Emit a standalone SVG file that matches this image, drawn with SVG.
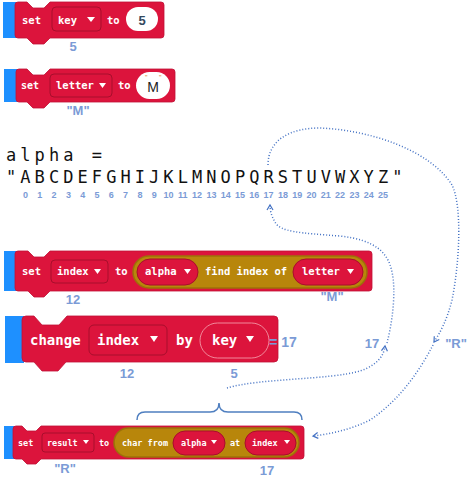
<svg xmlns="http://www.w3.org/2000/svg" width="467" height="479" viewBox="0 0 467 479">
<style>
.strip{fill:#1E90FF}
.blk{fill:#DC143C;stroke:#C01035;stroke-width:0.8}
.fld{fill:#DC143C;stroke:#A80E2C;stroke-width:1}
.pill{fill:#DC143C;stroke:#A80E2C;stroke-width:1}
.olive{fill:#B8860B;stroke:#9C7109;stroke-width:1.5}
.wt{fill:#fff;font-family:"DejaVu Sans Mono",monospace;font-weight:bold}
.tri{fill:#fff}
.lbl{fill:#7B9BD6;font-family:"Liberation Sans",Arial,sans-serif;font-weight:bold;text-anchor:middle}
.mono{fill:#111;font-family:"DejaVu Sans Mono",monospace;font-size:17px;letter-spacing:4.07px}
.idx{fill:#7B9BD6;font-family:"Liberation Sans",Arial,sans-serif;font-weight:bold;font-size:9px;text-anchor:middle}
.dot{fill:none;stroke:#4472C4;stroke-width:1.5;stroke-dasharray:1 2}
</style>
<defs>
<marker id="arr" markerUnits="userSpaceOnUse" markerWidth="10" markerHeight="10" refX="6" refY="4" orient="auto">
<path d="M1,1 L6,4 L1,7" fill="none" stroke="#4472C4" stroke-width="1.2"/>
</marker>
</defs>

<g id="block-set-key">
<rect class="strip" x="3" y="2" width="14" height="36"/>
<path class="blk" d="M18,2 L27,2 L33,8 L44,8 L50,2 L161,2 Q164,2 164,5 L164,35 Q164,38 161,38 L50,38 L44,44 L33,44 L27,38 L18,38 Q15,38 15,35 L15,5 Q15,2 18,2 Z"/>
<text class="wt" x="22" y="24" font-size="10.5">set</text>
<rect class="fld" x="52" y="7" width="49" height="24" rx="4"/>
<text class="wt" x="58" y="24" font-size="10.5">key</text>
<polygon class="tri" points="87,17 95,17 91,22"/>
<text class="wt" x="107" y="24" font-size="10.5">to</text>
<rect x="126" y="7" width="32" height="24" rx="12" fill="#fff"/>
<text x="142" y="25" font-family="Liberation Sans,Arial,sans-serif" font-size="13" font-weight="bold" fill="#34495E" text-anchor="middle">5</text>
<text class="lbl" x="73" y="51" font-size="13">5</text>
</g>

<g id="block-set-letter">
<rect class="strip" x="4" y="69" width="14" height="33"/>
<path class="blk" d="M19,69 L27,69 L33,75 L44,75 L50,69 L172,69 Q175,69 175,72 L175,99 Q175,102 172,102 L50,102 L44,108 L33,108 L27,102 L19,102 Q16,102 16,99 L16,72 Q16,69 19,69 Z"/>
<text class="wt" x="21" y="89" font-size="10">set</text>
<rect class="fld" x="50" y="74" width="62" height="23" rx="4"/>
<text class="wt" x="56" y="89" font-size="10.5">letter</text>
<polygon class="tri" points="99,83 106,83 102.5,88"/>
<text class="wt" x="118" y="89" font-size="10.5">to</text>
<rect x="136" y="72" width="34" height="27" rx="13.5" fill="#fff"/>
<text x="153" y="92" font-family="Liberation Sans,Arial,sans-serif" font-size="14" fill="#222" text-anchor="middle">M</text>
<text x="145" y="80" font-family="Liberation Sans,Arial,sans-serif" font-size="7" fill="#E08030">"</text>
<text x="159" y="80" font-family="Liberation Sans,Arial,sans-serif" font-size="7" fill="#E08030">"</text>
<text class="lbl" x="78" y="115" font-size="13">"M"</text>
</g>

<g id="alpha-string">
<text class="mono" x="6" y="161">alpha =</text>
<text class="mono" x="6" y="183">"ABCDEFGHIJKLMNOPQRSTUVWXYZ"</text>
<text class="idx" y="197.5"><tspan x="25.5">0</tspan><tspan x="39.8">1</tspan><tspan x="54.1">2</tspan><tspan x="68.4">3</tspan><tspan x="82.7">4</tspan><tspan x="97">5</tspan><tspan x="111.3">6</tspan><tspan x="125.6">7</tspan><tspan x="139.9">8</tspan><tspan x="154.2">9</tspan><tspan x="168.5">10</tspan><tspan x="182.8">11</tspan><tspan x="197.1">12</tspan><tspan x="211.4">13</tspan><tspan x="225.7">14</tspan><tspan x="240">15</tspan><tspan x="254.3">16</tspan><tspan x="268.6">17</tspan><tspan x="282.9">18</tspan><tspan x="297.2">19</tspan><tspan x="311.5">20</tspan><tspan x="325.8">21</tspan><tspan x="340.1">22</tspan><tspan x="354.4">23</tspan><tspan x="368.7">24</tspan><tspan x="383">25</tspan></text>
</g>

<g id="block-set-index">
<rect class="strip" x="4" y="251" width="14" height="40"/>
<path class="blk" d="M18,251 L28,251 L34,257 L44,257 L50,251 L369,251 Q372,251 372,254 L372,288 Q372,291 369,291 L50,291 L44,297 L34,297 L28,291 L18,291 Q15,291 15,288 L15,254 Q15,251 18,251 Z"/>
<text class="wt" x="22" y="275" font-size="10.5">set</text>
<rect class="fld" x="51" y="260" width="57" height="23" rx="4"/>
<text class="wt" x="57" y="275" font-size="10.5">index</text>
<polygon class="tri" points="94,269 101,269 97.5,274"/>
<text class="wt" x="115" y="275" font-size="10.5">to</text>
<rect class="olive" x="133" y="256" width="234" height="32" rx="16"/>
<rect class="pill" x="137" y="259" width="61" height="26" rx="13"/>
<text class="wt" x="145" y="275" font-size="10.5">alpha</text>
<polygon class="tri" points="184,269 191,269 187.5,274"/>
<text class="wt" x="205" y="275" font-size="10.5">find index of</text>
<rect class="pill" x="293" y="259" width="70" height="26" rx="13"/>
<text class="wt" x="302" y="275" font-size="10.5">letter</text>
<polygon class="tri" points="347,269 354,269 350.5,274"/>
<text class="lbl" x="73" y="304" font-size="13">12</text>
<text class="lbl" x="332" y="301" font-size="13">"M"</text>
</g>

<g id="block-change-index">
<rect class="strip" x="5" y="316" width="19" height="47"/>
<path class="blk" d="M26,316 L34,316 L42,325 L59,325 L67,316 L274,316 Q278,316 278,320 L278,358 Q278,362 274,362 L66,362 L58,371 L42,371 L34,362 L26,362 Q22,362 22,358 L22,320 Q22,316 26,316 Z"/>
<text class="wt" x="30" y="345" font-size="14">change</text>
<rect class="fld" x="89" y="325" width="78" height="30" rx="5"/>
<text class="wt" x="97" y="345" font-size="14">index</text>
<polygon class="tri" points="150,336 158,336 154,342"/>
<text class="wt" x="176" y="345" font-size="14">by</text>
<rect x="200" y="323" width="69" height="35" rx="17.5" fill="#DC143C" stroke="#F2899B" stroke-width="1"/>
<text class="wt" x="212" y="345" font-size="14">key</text>
<polygon class="tri" points="246,336 254,336 250,342"/>
<text class="lbl" x="283" y="347" font-size="14" text-anchor="start">= 17</text>
<text class="lbl" x="127" y="378" font-size="13">12</text>
<text class="lbl" x="234" y="378" font-size="13">5</text>
</g>

<g id="block-set-result">
<rect class="strip" x="4" y="426" width="11" height="33"/>
<path class="blk" d="M16,426 L22,426 L27,431 L36,431 L41,426 L301,426 Q304,426 304,429 L304,456 Q304,459 301,459 L41,459 L36,464 L27,464 L22,459 L16,459 Q13,459 13,456 L13,429 Q13,426 16,426 Z"/>
<text class="wt" x="18" y="446" font-size="8.5">set</text>
<rect class="fld" x="42" y="433" width="52" height="19" rx="3"/>
<text class="wt" x="47" y="446" font-size="8.5">result</text>
<polygon class="tri" points="83,440 89,440 86,444"/>
<text class="wt" x="99" y="446" font-size="8.5">to</text>
<rect class="olive" x="114" y="428" width="185" height="29" rx="14.5"/>
<text class="wt" x="122" y="446" font-size="8.5">char from</text>
<rect class="pill" x="173" y="431" width="52" height="24" rx="12"/>
<text class="wt" x="181" y="446" font-size="8.5">alpha</text>
<polygon class="tri" points="211,440 217,440 214,444"/>
<text class="wt" x="230" y="446" font-size="8.5">at</text>
<rect class="pill" x="245" y="431" width="51" height="24" rx="12"/>
<text class="wt" x="252" y="446" font-size="8.5">index</text>
<polygon class="tri" points="284,440 290,440 287,444"/>
<text class="lbl" x="65" y="473" font-size="13">"R"</text>
<text class="lbl" x="267" y="475" font-size="13">17</text>
</g>

<g id="connectors">
<path d="M137,420 Q137,412 145,412 L210,412 Q219,412 219,403 Q219,412 228,412 L294,412 Q302,412 302,420" fill="none" stroke="#4F7FC0" stroke-width="1.5"/>
<path class="dot" marker-end="url(#arr)" d="M227,388 C260,378 330,380 360,371 C378,365 384,355 385,346"/>
<path class="dot" marker-end="url(#arr)" d="M387,343 C393,320 396,290 392,272 C388,252 375,240 340,236 C300,233 280,232 275,222 C271,215 270,210 270,205"/>
<path class="dot" marker-end="url(#arr)" d="M268,165 C268,140 290,128 320,128 C370,130 430,150 452,185 C462,205 460,260 452,300 C447,320 440,333 434,342"/>
<path class="dot" marker-end="url(#arr)" d="M433,345 C420,370 400,400 370,420 C350,430 330,434 313,436"/>
<text class="lbl" x="372" y="348" font-size="13">17</text>
<text class="lbl" x="456" y="348" font-size="13">"R"</text>
</g>
</svg>
